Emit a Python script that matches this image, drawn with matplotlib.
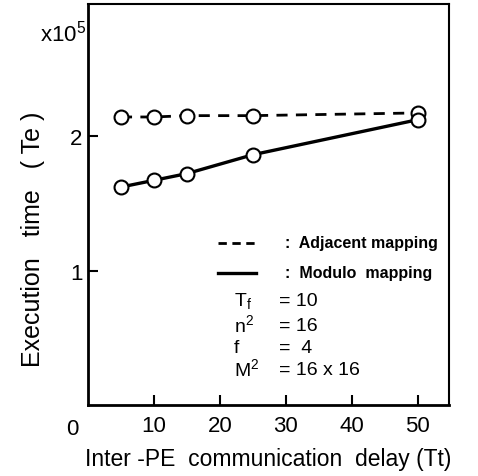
import matplotlib
matplotlib.use("Agg")
import matplotlib.pyplot as plt

# data (execution time in units of 1e5 Te)
delay = [5, 10, 15, 25, 50]
adjacent = [2.14, 2.14, 2.15, 2.15, 2.17]
modulo = [1.62, 1.67, 1.72, 1.86, 2.12]

xticks = [10, 20, 30, 40, 50]
yticks = [1, 2]

params = [("T$_\\mathregular{f}$", "= 10"),
          ("n$^\\mathregular{2}$", "= 16"),
          ("f", "=  4"),
          ("M$^\\mathregular{2}$", "= 16 x 16")]

plt.rcParams['font.family'] = ['Liberation Sans', 'DejaVu Sans']

fig = plt.figure(figsize=(4.78, 4.77), dpi=100)
ax = fig.add_axes([0.184, 0.148, 0.755, 0.842])

ax.plot(delay, adjacent, color='black', lw=2, ls=(0, (4, 3)),
        marker='o', ms=10, mfc='white', mec='black', mew=1.5)
ax.plot(delay, modulo, color='black', lw=2.4, ls='-',
        marker='o', ms=10, mfc='white', mec='black', mew=1.5)

ax.set_xlim(0, 54.7)
ax.set_ylim(0, 2.98)
ax.set_xticks(xticks)
ax.set_yticks(yticks)
ax.tick_params(direction='in', length=7, width=1.5, labelsize=16, pad=7)
ax.tick_params(axis='y', pad=4)

for side in ['left', 'bottom']:
    ax.spines[side].set_linewidth(2)
for side in ['top', 'right']:
    ax.spines[side].set_linewidth(1.5)

ax.text(-2.4, -0.095, "0", fontsize=16, ha='center', va='top')
ax.text(-0.005, 0.895, "x10$^\\mathregular{5}$", transform=ax.transAxes,
        fontsize=16, ha='right', va='bottom')

ax.set_xlabel("Inter -PE  communication  delay (Tt)", fontsize=16.5, labelpad=8)
ax.set_ylabel("Execution   time   ( Te )", fontsize=18)
ax.yaxis.set_label_coords(-0.12, 0.415)

# legend block drawn inside the axes
lx0, lx1 = 0.36, 0.465
ax.plot([lx0, lx1], [0.405, 0.405], transform=ax.transAxes, color='black',
        lw=2, ls=(0, (3, 2)))
ax.plot([lx0, lx1], [0.33, 0.33], transform=ax.transAxes, color='black',
        lw=2.4)
ax.text(0.545, 0.405, ":  Adjacent mapping", transform=ax.transAxes,
        fontsize=11.5, fontweight='bold', va='center')
ax.text(0.545, 0.33, ":  Modulo  mapping", transform=ax.transAxes,
        fontsize=11.5, fontweight='bold', va='center')

rows_y = [0.26, 0.2, 0.145, 0.09]
for (name, val), yy in zip(params, rows_y):
    ax.text(0.405, yy, name, transform=ax.transAxes, fontsize=14, va='center')
    ax.text(0.53, yy, val, transform=ax.transAxes, fontsize=14, va='center')

fig.savefig("out.png", dpi=100)
